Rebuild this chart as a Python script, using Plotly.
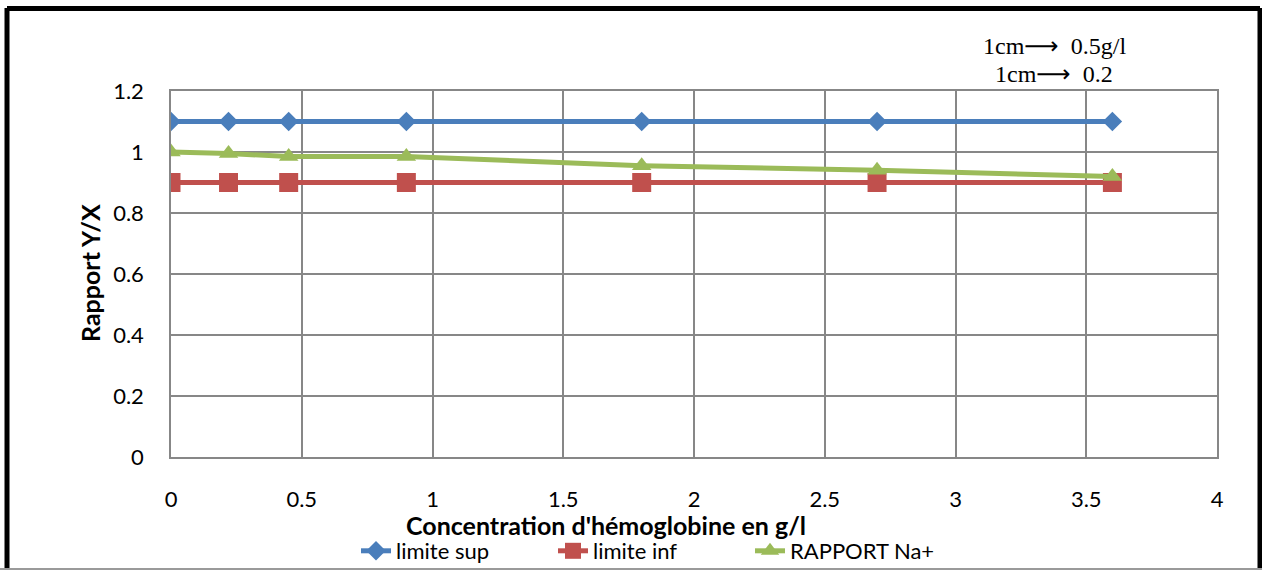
import plotly.graph_objects as go

# Hemoglobin concentration (g/l) and measured ratios
concentration = [0, 0.22, 0.45, 0.9, 1.8, 2.7, 3.6]
limite_sup = [1.1, 1.1, 1.1, 1.1, 1.1, 1.1, 1.1]
limite_inf = [0.9, 0.9, 0.9, 0.9, 0.9, 0.9, 0.9]
rapport_na = [1.0, 0.995, 0.985, 0.985, 0.955, 0.94, 0.92]

x_ticks = [0, 0.5, 1, 1.5, 2, 2.5, 3, 3.5, 4]
y_ticks = [0, 0.2, 0.4, 0.6, 0.8, 1, 1.2]

W, H = 1262, 570
ML, MR, MT, MB = 171, 45, 91, 113
PW, PH = W - ML - MR, H - MT - MB


def px(xp):
    return (xp - ML) / PW


def py(yp):
    return (H - MB - yp) / PH


TICK_FONT = dict(family="Lato", size=22, color="#000000")
GRID = "#878787"

fig = go.Figure()
fig.add_trace(go.Scatter(
    x=concentration, y=limite_sup, name="limite sup", mode="lines+markers",
    line=dict(color="#4A7EBB", width=5),
    marker=dict(symbol="diamond", size=15, color="#4A7EBB"),
))
fig.add_trace(go.Scatter(
    x=concentration, y=limite_inf, name="limite inf", mode="lines+markers",
    line=dict(color="#C0504D", width=5),
    marker=dict(symbol="square", size=19, color="#C0504D"),
))
fig.add_trace(go.Scatter(
    x=concentration, y=rapport_na, name="RAPPORT Na+", mode="lines+markers",
    line=dict(color="#9BBB59", width=5),
    marker=dict(symbol="triangle-up", size=17, color="#9BBB59"),
))

fig.update_layout(
    width=W, height=H,
    margin=dict(l=ML, r=MR, t=MT, b=MB, pad=0, autoexpand=False),
    paper_bgcolor="white", plot_bgcolor="white",
    showlegend=True,
    legend=dict(
        orientation="h", xref="container", yref="container",
        x=356 / W, xanchor="left", y=1 - 551 / H, yanchor="middle",
        font=dict(family="Lato", size=22, color="#000000"),
        entrywidth=152, tracegroupgap=0, bgcolor="rgba(0,0,0,0)",
    ),
    xaxis=dict(
        range=[0, 4], tickvals=x_ticks, ticktext=[f"{v:g}" for v in x_ticks],
        showgrid=True, gridcolor=GRID, gridwidth=1.5,
        showline=True, linecolor=GRID, linewidth=1.5, mirror=True,
        zeroline=False, ticks="", ticklabelstandoff=22, tickfont=TICK_FONT,
    ),
    yaxis=dict(
        range=[0, 1.2], tickvals=y_ticks, ticktext=[f"{v:g}" for v in y_ticks],
        showgrid=True, gridcolor=GRID, gridwidth=1.5,
        showline=True, linecolor=GRID, linewidth=1.5, mirror=True,
        zeroline=False, ticks="", ticklabelstandoff=21, tickfont=TICK_FONT,
    ),
)

# Axis titles
fig.add_annotation(
    text="<b>Concentration d'hémoglobine en g/l</b>", xref="paper", yref="paper",
    x=px(606), y=py(525), xanchor="center", yanchor="middle", showarrow=False,
    font=dict(family="Lato", size=25, color="#000000"),
)
fig.add_annotation(
    text="<b>Rapport Y/X</b>", xref="paper", yref="paper",
    x=px(90), y=py(273), xanchor="center", yanchor="middle", showarrow=False,
    textangle=-90, font=dict(family="Lato", size=25, color="#000000"),
)

# Scale note
ARROW = "<span style='font-family:DejaVu Sans'>\u27f6</span>"
for line_text, ypix in [(f"1cm{ARROW}  0.5g/l", 46), (f"1cm{ARROW}  0.2", 74)]:
    fig.add_annotation(
        text=line_text, xref="paper", yref="paper",
        x=px(1054), y=py(ypix), xanchor="center", yanchor="middle", showarrow=False,
        font=dict(family="Liberation Serif", size=24, color="#000000"),
    )

# Outer frame around the chart
for x0, y0, x1, y1, col, w in [
    (7, 8, 7, H + 5, "#000000", 5),
    (7, 8.5, 1260, 8.5, "#000000", 5),
    (1260, 8, 1260, H + 5, "#000000", 5),
    (0, 569, W, 569, "#9a9a9a", 2),
]:
    fig.add_shape(
        type="line", xref="paper", yref="paper",
        x0=px(x0), y0=py(y0), x1=px(x1), y1=py(y1),
        line=dict(color=col, width=w), layer="above",
    )

fig.write_html("out.html")
